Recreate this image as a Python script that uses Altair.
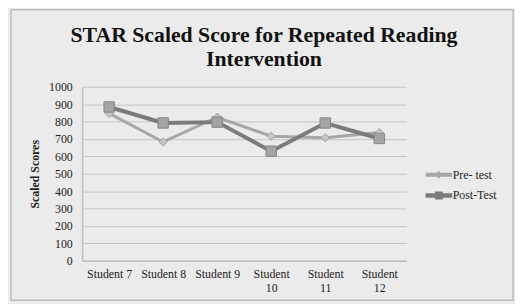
import altair as alt
import pandas as pd

students = ["Student 7", "Student 8", "Student 9", "Student 10", "Student 11", "Student 12"]
series_names = ["Pre- test", "Post-Test"]
pre_test = [847, 683, 825, 716, 707, 737]
post_test = [884, 792, 797, 630, 792, 703]
y_ticks = [0, 100, 200, 300, 400, 500, 600, 700, 800, 900, 1000]
title_lines = ["STAR Scaled Score for Repeated Reading", "Intervention"]

line_colors = ["#a6a6a6", "#7b7b7b"]
marker_fills = ["#c6c6c6", "#a4a4a4"]
marker_strokes = ["#a0a0a0", "#858585"]

rows = []
for s, v in zip(students, pre_test):
    rows.append({"student": s, "series": series_names[0], "score": v})
for s, v in zip(students, post_test):
    rows.append({"student": s, "series": series_names[1], "score": v})
df = pd.DataFrame(rows)

FONT = "'Liberation Serif', 'DejaVu Serif', serif"

x_enc = alt.X(
    "student:N",
    sort=students,
    scale=alt.Scale(paddingOuter=0.5, paddingInner=0),
    axis=alt.Axis(
        title=None,
        labelAngle=0,
        labelFont=FONT,
        labelFontSize=12,
        labelColor="#222222",
        labelPadding=8,
        ticks=False,
        domainColor="#bdbdbd",
        domainWidth=1.5,
        labelExpr="length(datum.label) > 9 ? split(datum.label, ' ') : datum.label",
        labelLineHeight=14,
        grid=False,
    ),
)
y_enc = alt.Y(
    "score:Q",
    scale=alt.Scale(domain=[0, 1000], nice=False),
    axis=alt.Axis(
        title="Scaled Scores",
        titleFont=FONT,
        titleFontSize=12,
        titleFontWeight="bold",
        titleColor="#222222",
        titlePadding=7,
        values=y_ticks,
        format="d",
        labelFont=FONT,
        labelFontSize=12,
        labelColor="#222222",
        labelPadding=10,
        ticks=False,
        domainColor="#bdbdbd",
        domainWidth=1.5,
        gridColor="#c4c4c4",
        gridWidth=1,
    ),
)

base = alt.Chart(df)

lines = base.mark_line().encode(
    x=x_enc,
    y=y_enc,
    color=alt.Color("series:N", scale=alt.Scale(domain=series_names, range=line_colors), legend=None),
    strokeWidth=alt.StrokeWidth("series:N", scale=alt.Scale(domain=series_names, range=[3, 4]), legend=None),
)

points = base.mark_point(filled=True, opacity=1, strokeWidth=1).encode(
    x=x_enc,
    y=y_enc,
    shape=alt.Shape("series:N", scale=alt.Scale(domain=series_names, range=["diamond", "square"]), legend=None),
    fill=alt.Fill("series:N", scale=alt.Scale(domain=series_names, range=marker_fills), legend=None),
    stroke=alt.Stroke("series:N", scale=alt.Scale(domain=series_names, range=marker_strokes), legend=None),
    size=alt.Size("series:N", scale=alt.Scale(domain=series_names, range=[70, 110]), legend=None),
)

pre_path = "M-1.35,-0.2L1.35,-0.2L1.35,0.2L-1.35,0.2Z M0,-0.4L0.35,0L0,0.4L-0.35,0Z"
post_path = "M-1.35,-0.22L1.35,-0.22L1.35,0.22L-1.35,0.22Z M-0.4,-0.4L0.4,-0.4L0.4,0.4L-0.4,0.4Z"

legend_layer = base.transform_calculate(legend_series="datum.series").mark_point(
    filled=True, opacity=0
).encode(
    x=x_enc,
    y=y_enc,
    shape=alt.Shape(
        "legend_series:N",
        scale=alt.Scale(domain=series_names, range=[pre_path, post_path]),
        legend=alt.Legend(
            title=None,
            orient="none",
            legendX=351,
            legendY=79,
            symbolSize=400,
            symbolOpacity=1,
            symbolStrokeWidth=0,
            labelFont=FONT,
            labelFontSize=12,
            labelColor="#222222",
            labelOffset=4,
            rowPadding=5,
            padding=0,
        ),
    ),
    fill=alt.Fill(
        "legend_series:N",
        scale=alt.Scale(domain=series_names, range=line_colors),
        legend=None,
    ),
)

frame = alt.Chart(alt.Data(values=[{"a": 1}])).mark_rect(
    fill="transparent", stroke="#bcbcbc", strokeWidth=1.5
).encode(
    x=alt.value(-72), x2=alt.value(436), y=alt.value(-78), y2=alt.value(216)
)

title_text = alt.Chart(alt.Data(values=[{"t": "\n".join(title_lines)}])).mark_text(
    font=FONT,
    fontSize=22,
    fontWeight="bold",
    color="#111111",
    align="center",
    baseline="alphabetic",
    lineBreak="\n",
    lineHeight=24,
).encode(
    text="t:N", x=alt.value(184), y=alt.value(-45)
)

chart = alt.layer(frame, title_text, lines, points, legend_layer).resolve_scale(
    shape="independent", fill="independent"
).properties(
    width=328,
    height=176,
    autosize=alt.AutoSizeParams(type="none"),
    padding={"left": 75, "top": 78, "right": 110, "bottom": 42},
).configure(
    background="#ebebeb"
).configure_view(
    stroke=None
)

chart.save("out.html", embed_options={"renderer": "svg", "actions": False})
